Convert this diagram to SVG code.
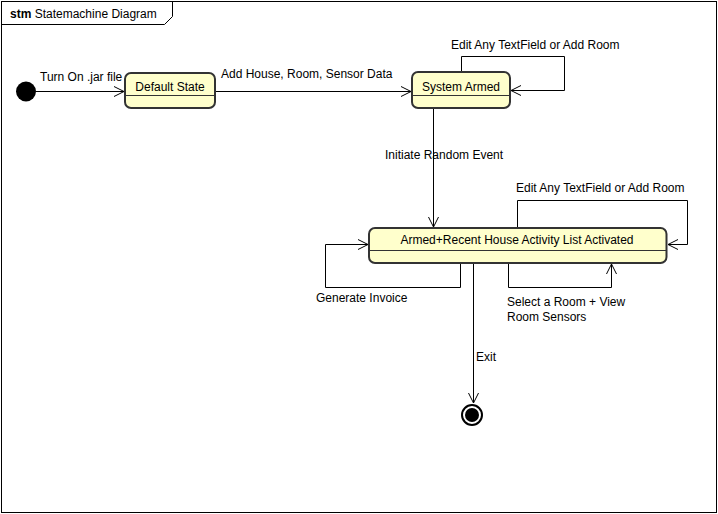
<svg xmlns="http://www.w3.org/2000/svg" width="718" height="514" viewBox="0 0 718 514">
<style>
text{font-family:"Liberation Sans",Arial,sans-serif;font-size:12px;fill:#000}
.st rect{fill:#ffffcc;stroke:#333;stroke-width:2}
.st line{stroke:#333;stroke-width:1}
.c{fill:none;stroke:#000;stroke-width:1}
.mid{text-anchor:middle}
</style>
<defs>
<marker id="a" markerWidth="12" markerHeight="12" refX="10" refY="5" orient="auto" markerUnits="userSpaceOnUse" viewBox="0 0 12 10">
<path d="M0,0 L10,5 L0,10" fill="none" stroke="#000" stroke-width="1"/>
</marker>
</defs>
<rect width="718" height="514" fill="#fff"/>
<g id="frame">
<rect x="1.5" y="1.5" width="715" height="511" fill="none" stroke="#000"/>
<path d="M1.5,24.5 H164.5 L172.5,16.5 V1.5" fill="none" stroke="#000"/>
<text x="10" y="18"><tspan font-weight="bold">stm</tspan> Statemachine Diagram</text>
</g>
<g id="connectors">
<path class="c" d="M36,91.5 H124" marker-end="url(#a)"/>
<text x="40" y="81">Turn On .jar file</text>
<path class="c" d="M215,91.5 H411" marker-end="url(#a)"/>
<text x="221" y="78">Add House, Room, Sensor Data</text>
<path class="c" d="M461.5,72 V56.5 H564.5 V90.5 H511" marker-end="url(#a)"/>
<text x="451" y="49">Edit Any TextField or Add Room</text>
<path class="c" d="M433.5,108 V227" marker-end="url(#a)"/>
<text x="385" y="159">Initiate Random Event</text>
<path class="c" d="M517.5,228 V200.5 H687.5 V244.5 H668" marker-end="url(#a)"/>
<text x="516" y="192">Edit Any TextField or Add Room</text>
<path class="c" d="M460.5,263 V287.5 H325.5 V244.5 H368" marker-end="url(#a)"/>
<text x="316" y="302">Generate Invoice</text>
<path class="c" d="M508.5,263 V287.5 H611.5 V264" marker-end="url(#a)"/>
<text x="507" y="306">Select a Room + View</text>
<text x="507" y="321">Room Sensors</text>
<path class="c" d="M473.5,263 V403" marker-end="url(#a)"/>
<text x="476" y="361">Exit</text>
</g>
<g id="initial">
<circle cx="26" cy="91.5" r="10" fill="#000"/>
</g>
<g id="default" class="st">
<rect x="125" y="73" width="90" height="35" rx="6"/>
<line x1="125" y1="95.5" x2="215" y2="95.5"/>
<text class="mid" x="170" y="91">Default State</text>
</g>
<g id="armed" class="st">
<rect x="412" y="72" width="98" height="36" rx="6"/>
<line x1="412" y1="95.5" x2="510" y2="95.5"/>
<text class="mid" x="461" y="91">System Armed</text>
</g>
<g id="activity" class="st">
<rect x="369" y="228" width="297.5" height="35" rx="6"/>
<line x1="369" y1="250.5" x2="666.5" y2="250.5"/>
<text class="mid" x="517" y="244">Armed+Recent House Activity List Activated</text>
</g>
<g id="final">
<circle cx="472" cy="415" r="10" fill="#fff" stroke="#000" stroke-width="2"/>
<circle cx="472" cy="415" r="7" fill="#000"/>
</g>
</svg>
